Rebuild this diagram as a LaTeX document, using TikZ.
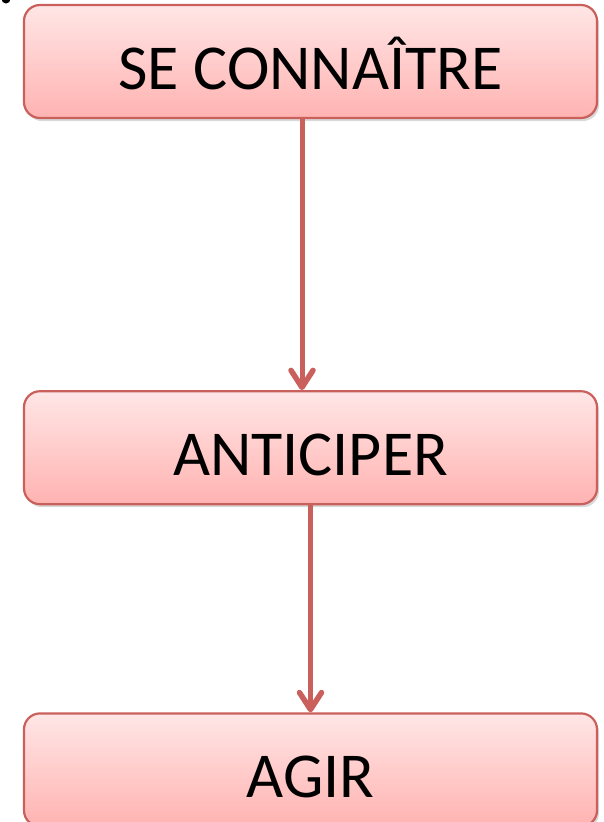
\documentclass[tikz,border=0pt]{standalone}
\usepackage{fontspec}
\setmainfont{Carlito}
\usepackage{tikz}
\usetikzlibrary{arrows.meta, positioning, shadows}

\definecolor{boxline}{HTML}{C9605C}
\definecolor{boxtop}{HTML}{FFE6E6}
\definecolor{boxbottom}{HTML}{FFB3B1}

\begin{document}
\begin{tikzpicture}[
    stage/.style={rectangle, rounded corners=16pt, draw=boxline, line width=2.2pt,
        top color=boxtop, bottom color=boxbottom,
        minimum width=573pt, minimum height=113pt, inner sep=0pt,
        font=\fontsize{64}{72}\selectfont, text height=62pt, text depth=7pt,
        drop shadow={shadow xshift=2pt, shadow yshift=-3pt, opacity=0.25, fill=black!60}},
    arrow/.style={-{Straight Barb[length=17pt, width=22pt, line width=5.5pt, line cap=round, line join=round]},
        draw=boxline, line width=5pt}
]
\useasboundingbox (0,0) rectangle (604pt,-822pt);
\fill (6pt,1pt) circle (4.5pt);
\node[stage] (know) at (310.5pt,-61.5pt) {SE CONNAÎTRE};
\node[stage, below=271pt of know] (anticipate) {ANTICIPER};
\node[stage, below=207pt of anticipate] (act) {AGIR};
\draw[arrow] ([xshift=-8.5pt]know.south) -- ([xshift=-8.5pt]anticipate.north);
\draw[arrow] (anticipate.south) -- (act.north);
\end{tikzpicture}
\end{document}
